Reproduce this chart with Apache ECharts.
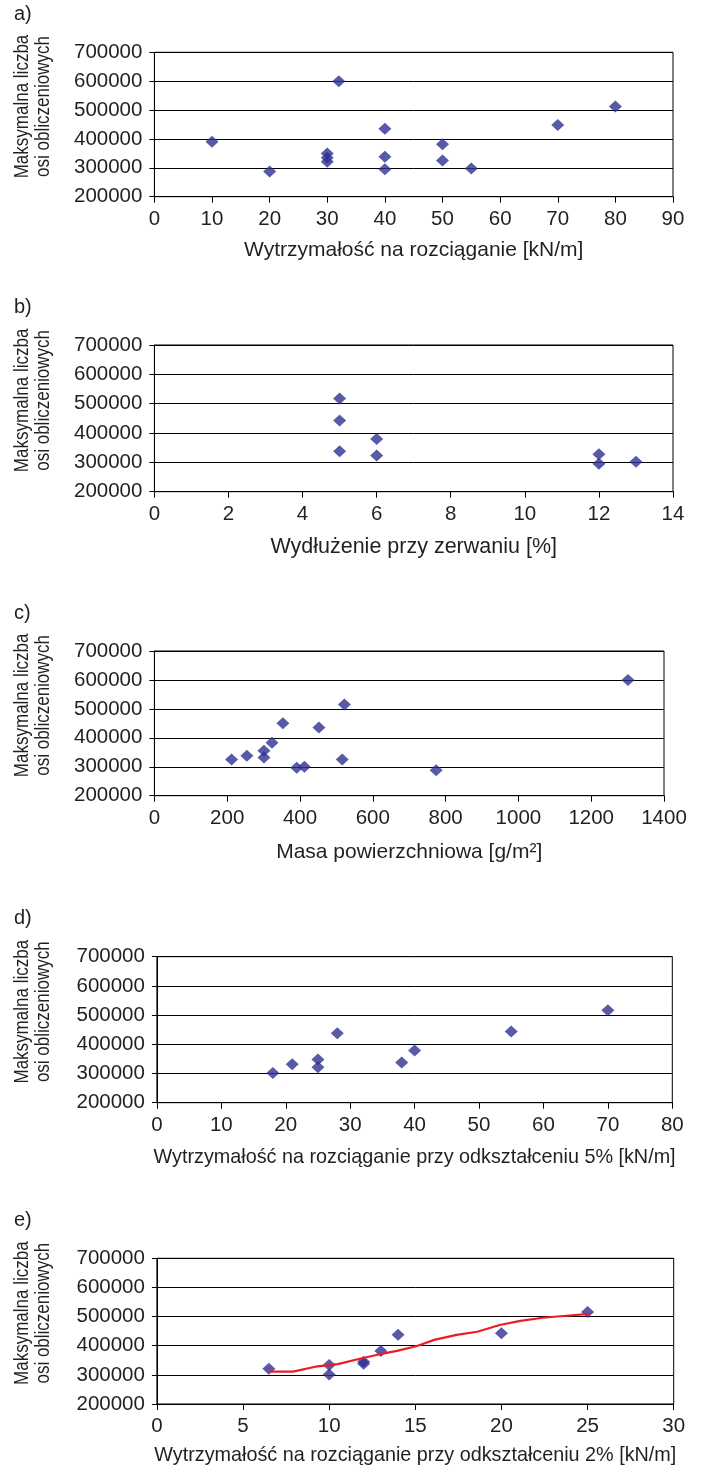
<!DOCTYPE html>
<html>
<head>
<meta charset="utf-8">
<script src="https://cdn.jsdelivr.net/npm/echarts@6/dist/echarts.min.js"></script>
<style>
html,body{margin:0;padding:0;background:#fff;}
#chart{width:702px;height:1474px;}
</style>
</head>
<body>
<div id="chart"></div>
<script>
// ---- data ----
const aX = [10, 20, 32, 30, 30, 30, 40, 40, 40, 50, 50, 55, 70, 80];
const aY = [390000, 287000, 600000, 350000, 335000, 321000, 435000, 338000, 295000, 382000, 325000, 298000, 448000, 512000];

const bX = [5, 5, 5, 6, 6, 12, 12, 13];
const bY = [518000, 443000, 338000, 380000, 323000, 328000, 295000, 302000];

const cX = [212, 254, 301, 301, 323, 353, 391, 412, 452, 516, 522, 774, 1301];
const cY = [325000, 338000, 355000, 332000, 383000, 450000, 297000, 300000, 436000, 325000, 515000, 288000, 600000];

const dX = [18, 21, 25, 25, 28, 38, 40, 55, 70];
const dY = [302000, 332000, 348000, 321000, 438000, 338000, 379000, 444000, 517000];

const eX = [6.5, 10, 10, 12, 12, 13, 14, 20, 25];
const eY = [321000, 334000, 301000, 345000, 338000, 382000, 438000, 443000, 516000];

const trendX = [6.5, 7.9, 9.2, 10.5, 11.9, 13.2, 14.0, 15.1, 16.1, 17.4, 18.6, 19.9, 21.1, 22.4, 23.6, 25.1];
const trendY = [311000, 311000, 328000, 337000, 357000, 374000, 383000, 399000, 420000, 437000, 448000, 471000, 485000, 496000, 502000, 509000];

const panelLabels = ['a)', 'b)', 'c)', 'd)', 'e)'];
const xTitles = [
  'Wytrzymałość na rozciąganie [kN/m]',
  'Wydłużenie przy zerwaniu [%]',
  'Masa powierzchniowa [g/m²]',
  'Wytrzymałość na rozciąganie przy odkształceniu 5% [kN/m]',
  'Wytrzymałość na rozciąganie przy odkształceniu 2% [kN/m]'
];
const yTitle = 'Maksymalna liczba\nosi obliczeniowych';
const xRanges = [[0, 90, 10], [0, 14, 2], [0, 1400, 200], [0, 80, 10], [0, 30, 5]];
const yRange = [200000, 700000, 100000];

// ---- layout ----
const FONT = "'Liberation Sans', Arial, sans-serif";
const TXT = '#231f20';
const grids = [
  {left: 154.4, top: 52.3, width: 518.6, height: 144.4},
  {left: 154.4, top: 345, width: 518.6, height: 146.7},
  {left: 154.4, top: 651, width: 509.6, height: 144.7},
  {left: 156.9, top: 956.7, width: 515.4, height: 146},
  {left: 156.9, top: 1258.3, width: 516.8, height: 145.7}
];
const xTitleY = [250, 547, 852, 1158, 1456];
const xTitleFont = [21, 21.5, 21, 19.8, 19.8];

const option = {
  animation: false,
  backgroundColor: '#fff',
  textStyle: {fontFamily: FONT},
  grid: grids.map(g => Object.assign({show: true, borderColor: '#000', borderWidth: 1, backgroundColor: 'transparent'}, g)),
  xAxis: xRanges.map((r, i) => ({
    type: 'value', gridIndex: i, min: r[0], max: r[1], interval: r[2],
    axisLine: {show: true, lineStyle: {color: '#000', width: 1}},
    axisTick: {show: true, length: 6, lineStyle: {color: '#000'}},
    splitLine: {show: false},
    axisLabel: {color: TXT, fontSize: 20.5, margin: 12, fontFamily: FONT, formatter: v => String(v)}
  })),
  yAxis: xRanges.map((r, i) => ({
    type: 'value', gridIndex: i, min: yRange[0], max: yRange[1], interval: yRange[2],
    axisLine: {show: true, lineStyle: {color: '#000', width: 1}},
    axisTick: {show: true, length: 5, lineStyle: {color: '#000'}},
    splitLine: {show: true, lineStyle: {color: '#000', width: 1}},
    axisLabel: {color: TXT, fontSize: 20.5, margin: 12, fontFamily: FONT, formatter: v => String(v)}
  })),
  series: [],
  graphic: []
};

const sets = [[aX, aY], [bX, bY], [cX, cY], [dX, dY], [eX, eY]];
sets.forEach((s, i) => {
  option.series.push({
    type: 'scatter', xAxisIndex: i, yAxisIndex: i,
    symbol: 'diamond', symbolSize: [13, 12],
    itemStyle: {color: '#2e3192'},
    data: s[0].map((x, k) => [x, s[1][k]])
  });
});
option.series.push({
  type: 'line', xAxisIndex: 4, yAxisIndex: 4,
  showSymbol: false, symbol: 'none', smooth: false,
  lineStyle: {color: '#ed1c24', width: 2.2},
  data: trendX.map((x, k) => [x, trendY[k]]),
  z: 3
});

grids.forEach((g, i) => {
  option.graphic.push({
    type: 'text', x: 14, y: g.top - 38,
    style: {text: panelLabels[i], fill: TXT, font: '20px ' + FONT, verticalAlign: 'middle'}
  });
  option.graphic.push({
    type: 'text', x: 33, y: g.top + g.height / 2 - 18, rotation: Math.PI / 2,
    scaleX: 1, scaleY: 1.18,
    style: {text: yTitle, fill: TXT, font: '17px ' + FONT, align: 'center', verticalAlign: 'middle', lineHeight: 17.8}
  });
  option.graphic.push({
    type: 'text', x: g.left + g.width / 2, y: xTitleY[i],
    style: {text: xTitles[i], fill: TXT, font: xTitleFont[i] + 'px ' + FONT, align: 'center', verticalAlign: 'middle'}
  });
});

const chart = echarts.init(document.getElementById('chart'), null, {renderer: 'canvas'});
chart.setOption(option);
</script>
</body>
</html>
